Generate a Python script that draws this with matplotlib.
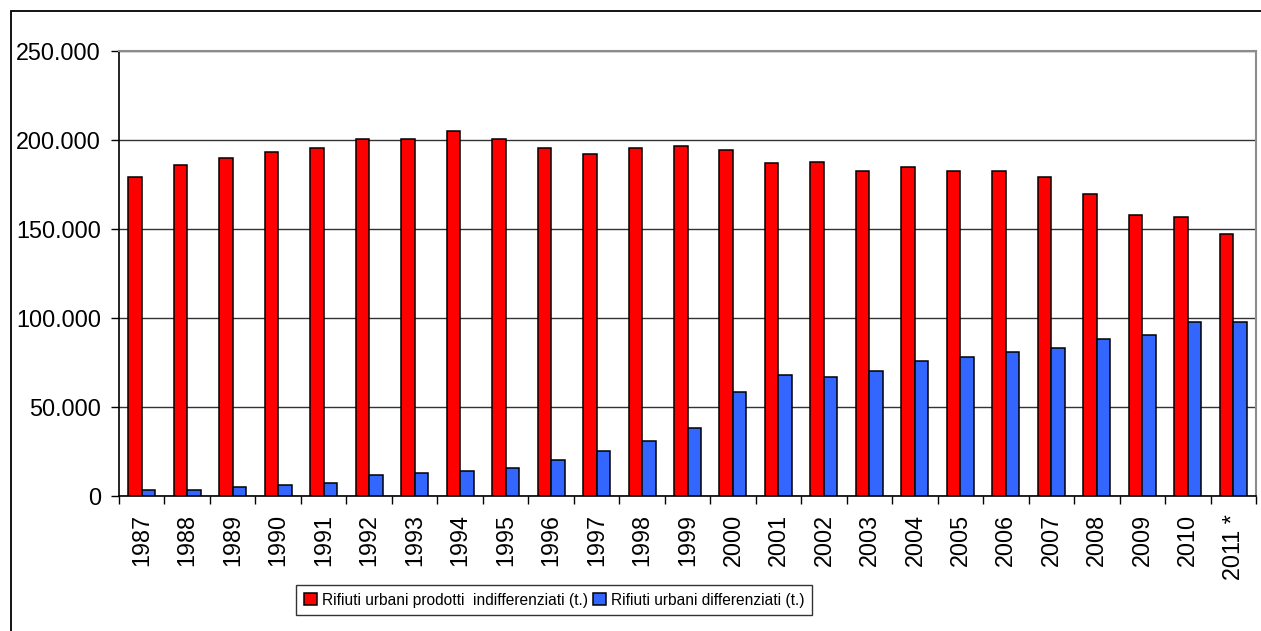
import matplotlib
matplotlib.use("Agg")
import matplotlib.pyplot as plt
from matplotlib.patches import Rectangle, Patch
from matplotlib.ticker import FuncFormatter
from matplotlib import font_manager
import numpy as np

years = ["1987", "1988", "1989", "1990", "1991", "1992", "1993", "1994", "1995",
         "1996", "1997", "1998", "1999", "2000", "2001", "2002", "2003", "2004",
         "2005", "2006", "2007", "2008", "2009", "2010", "2011 *"]
indifferenziati = [179400, 186000, 190000, 193300, 195500, 200700, 200700, 205200,
                   200600, 195300, 192100, 195300, 196500, 194200, 186900, 187800,
                   182600, 184600, 182600, 182600, 179200, 169800, 157900, 156700,
                   147200]
differenziati = [3200, 3200, 5200, 6300, 7500, 11600, 12900, 13900, 15900, 20200,
                 25400, 30900, 38400, 58600, 68100, 67000, 70400, 75800, 77900,
                 81100, 83100, 88400, 90600, 97900, 97900]
series_labels = ["Rifiuti urbani prodotti  indifferenziati (t.)",
                 "Rifiuti urbani differenziati (t.)"]
yticks = [0, 50000, 100000, 150000, 200000, 250000]

plt.rcParams['font.family'] = ['Liberation Sans', 'DejaVu Sans']

names = {f.name for f in font_manager.fontManager.ttflist}
narrow = 'Liberation Sans Narrow' in names

W, H = 1261, 631
fig = plt.figure(figsize=(W / 100, H / 100), dpi=100)
ax = fig.add_axes([119 / W, (H - 496) / H, (1256 - 119) / W, (496 - 51) / H])

x = np.arange(len(years))
bw = 0.297
ax.bar(x - bw, indifferenziati, width=bw, align='edge', color='#FF0000',
       edgecolor='black', linewidth=1.1, zorder=3, label=series_labels[0])
ax.bar(x, differenziati, width=bw, align='edge', color='#3366FF',
       edgecolor='black', linewidth=1.1, zorder=3, label=series_labels[1])

ax.set_xlim(-0.5, len(years) - 0.5)
ax.set_ylim(0, 250000)
ax.set_yticks(yticks)
ax.yaxis.set_major_formatter(FuncFormatter(lambda v, p: f"{int(v):,}".replace(",", ".")))
ax.yaxis.grid(True, color='#333333', linewidth=1.0, zorder=0)

ax.set_xticks(np.arange(len(years) + 1) - 0.5)
ax.set_xticklabels([])
ax.set_xticks(x, minor=True)
ax.set_xticklabels(years, minor=True, rotation=90, fontsize=16.8)
ax.tick_params(axis='x', which='major', length=6, width=1, direction='out', color='black')
ax.tick_params(axis='x', which='minor', length=0, pad=13)
ax.tick_params(axis='y', length=6, width=1, direction='out', labelsize=16.8, pad=7)

for s in ['left', 'bottom']:
    ax.spines[s].set_color('black')
    ax.spines[s].set_linewidth(1.2)
for s in ['top', 'right']:
    ax.spines[s].set_color('#8c8c8c')
    ax.spines[s].set_linewidth(1.5)

handles = [Patch(facecolor='#FF0000', edgecolor='black', linewidth=1.1),
           Patch(facecolor='#3366FF', edgecolor='black', linewidth=1.1)]
if narrow:
    lprop = {'family': ['Liberation Sans Narrow', 'Liberation Sans'], 'size': 15}
else:
    lprop = {'family': ['Liberation Sans', 'DejaVu Sans'], 'size': 11.2}
leg = fig.legend(handles, series_labels, loc='center', bbox_to_anchor=(554 / W, (H - 600) / H),
                 ncol=2, frameon=True, fancybox=False, edgecolor='black',
                 prop=lprop,
                 handlelength=0.85, handleheight=0.85, handletextpad=0.3, columnspacing=0.35,
                 borderpad=0.5, borderaxespad=0)
leg.get_frame().set_linewidth(1.0)

fig.add_artist(Rectangle((11 / W, -0.1), 1.2, (H - 11) / H + 0.1, transform=fig.transFigure,
                         fill=False, edgecolor='black', linewidth=1.3))

fig.savefig("out.png", dpi=100)
